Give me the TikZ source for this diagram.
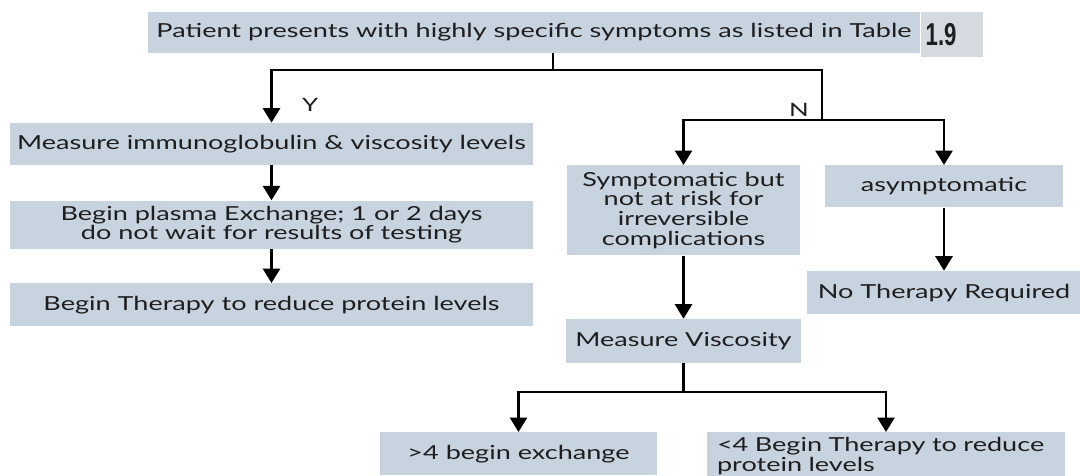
\documentclass[tikz,border=0pt]{standalone}
\usepackage{fontspec}
\setmainfont[FakeStretch=1.4]{Lato}
\newfontfamily\tabfont[FakeStretch=0.7]{Liberation Sans}
\usetikzlibrary{arrows.meta, positioning}

\definecolor{boxfill}{HTML}{C8D3E0}
\definecolor{tabfill}{HTML}{D5D9E0}
\definecolor{ink}{HTML}{1E1E1E}

\begin{document}
\begin{tikzpicture}[
  node distance=0.7cm,
  box/.style={fill=boxfill, text=ink, align=center, inner sep=0.1cm, font=\fontsize{11}{11.2}\selectfont},
  arrow/.style={-{Triangle[width=0.34cm, length=0.29cm]}, line width=1.6pt},
  line/.style={line width=1.6pt},
  lab/.style={text=ink, inner sep=1pt, font=\fontsize{10.5}{11}\selectfont},
]

% Frame
\path[use as bounding box, clip] (0,0) rectangle (21.6,-9.5);

% Nodes
\node[box, minimum width=15.44cm, minimum height=0.82cm] (top) at (10.68,-0.65) {Patient presents with highly specific symptoms as listed in Table};
\node[box, fill=tabfill, anchor=north west, minimum height=0.9cm, text width=1.04cm, align=left, font=\tabfont\bfseries\fontsize{18}{18}\selectfont] (tab) at (top.north east) {1.9};

\node[box, minimum width=10.46cm, minimum height=0.84cm] (meas) at (5.43,-2.88) {Measure immunoglobulin \& viscosity levels};
\node[box, minimum width=10.46cm, minimum height=0.96cm, below=0.7cm of meas] (plasma) {Begin plasma Exchange; 1 or 2 days\\do not wait for results of testing};
\node[box, minimum width=10.46cm, minimum height=0.86cm, below=0.68cm of plasma] (thera) {Begin Therapy to reduce protein levels};

\node[box, minimum width=4.66cm, minimum height=1.8cm, anchor=north] (sym) at (13.67,-3.3) {Symptomatic but\\not at risk for\\irreversible\\complications};
\node[box, minimum width=4.76cm, minimum height=0.84cm, anchor=north] (asym) at (18.88,-3.3) {asymptomatic};
\node[box, minimum width=5.5cm, minimum height=0.86cm, below=1.26cm of asym] (nother) {No Therapy Required};
\node[box, minimum width=4.7cm, minimum height=0.88cm, below=1.26cm of sym] (visc) {Measure Viscosity};

\node[box, minimum width=5.54cm, minimum height=0.86cm, anchor=north] (gt4) at (10.37,-8.64) {>4 begin exchange};
\node[box, text width=6.76cm, inner xsep=0.2cm, inner ysep=0.1cm, align=left, anchor=north] (lt4) at (17.72,-8.64) {<4 Begin Therapy to reduce\\protein levels};

\coordinate (ysplit) at (11.06,-1.4);
\coordinate (nsplit) at (16.44,-2.4);
\coordinate (vsplit) at (visc.south |- 0,-7.84);

% Arrows
\draw[line] (top.south -| ysplit) -- (ysplit);
\draw[arrow] (ysplit) -| (meas.north) node[lab, pos=0.83, right=0.55cm] (ylab) {Y};
\draw[line] (ysplit) -| (nsplit) node[lab, pos=0.9, left=0.2cm] (nlab) {N};
\draw[arrow] (nsplit) -| (sym.north);
\draw[arrow] (nsplit) -| (asym.north);
\draw[arrow] (meas) -- (plasma);
\draw[arrow] (plasma) -- (thera);
\draw[arrow] (sym) -- (visc);
\draw[arrow] (asym) -- (nother);
\draw[line] (visc) -- (vsplit);
\draw[arrow] (vsplit) -| (gt4.north);
\draw[arrow] (vsplit) -| (lt4.north);

\end{tikzpicture}
\end{document}
